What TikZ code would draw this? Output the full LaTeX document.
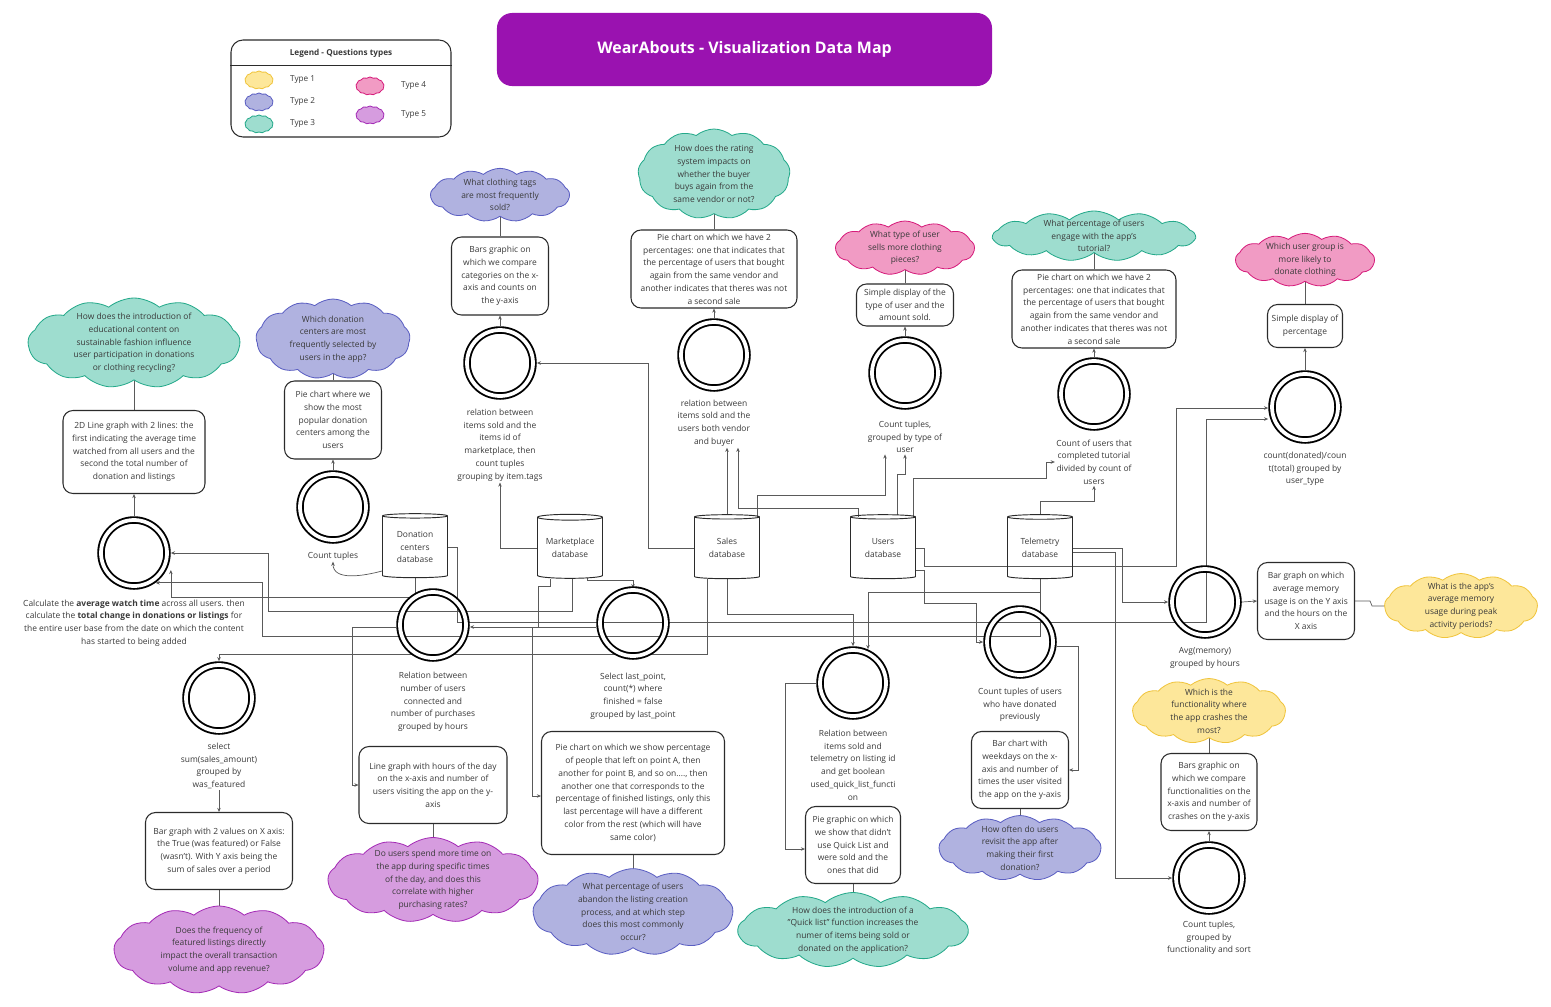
\documentclass[tikz,border=0pt]{standalone}
\usepackage{fontspec}
\setmainfont{Open Sans}
\usetikzlibrary{shapes.geometric,shapes.symbols,arrows.meta,calc,positioning,backgrounds}

\definecolor{titlepurple}{HTML}{9A12B0}
\definecolor{txt}{HTML}{3A3A3A}
\definecolor{boxline}{HTML}{2B2B2B}
\definecolor{wire}{HTML}{5A5A5A}
\definecolor{ylfill}{HTML}{FDE79A}
\definecolor{yldraw}{HTML}{F0C43C}
\definecolor{lvfill}{HTML}{B0B2E0}
\definecolor{lvdraw}{HTML}{5A5EC2}
\definecolor{tlfill}{HTML}{9EDDCF}
\definecolor{tldraw}{HTML}{24A98A}
\definecolor{pkfill}{HTML}{F19BC4}
\definecolor{pkdraw}{HTML}{D61C7B}
\definecolor{ppfill}{HTML}{D69CDF}
\definecolor{ppdraw}{HTML}{A42BB6}

\tikzset{
  titlebox/.style={fill=titlepurple, rounded corners=0.45cm, text=white,
    font=\bfseries\fontsize{13.6}{16}\selectfont},
  qbox/.style={draw=boxline, line width=0.9pt, rounded corners=0.3cm, align=center, inner sep=1pt},
  query/.style={circle, draw=black, line width=1.6pt, double=white, double distance=3.2pt,
    minimum size=1.98cm, inner sep=0pt, outer sep=3.3pt},
  qlabel/.style={align=center, inner sep=1pt},
  dbase/.style={cylinder, shape border rotate=90, aspect=0.12, draw=boxline, line width=0.8pt,
    minimum width=1.95cm, minimum height=1.92cm, align=center, inner sep=0pt},
  question/.style={cloud, cloud puffs=13, cloud puff arc=80, cloud ignores aspect,
    line width=0.7pt, inner sep=0pt},
  qtext/.style={align=center, inner sep=0pt},
  type1/.style={question, fill=ylfill, draw=yldraw},
  type2/.style={question, fill=lvfill, draw=lvdraw},
  type3/.style={question, fill=tlfill, draw=tldraw},
  type4/.style={question, fill=pkfill, draw=pkdraw},
  type5/.style={question, fill=ppfill, draw=ppdraw},
  legtext/.style={font=\fontsize{7}{8}\selectfont, label distance=0.38cm},
  link/.style={draw=wire, line width=0.6pt},
  flow/.style={link, ->}
}

\begin{document}
\begin{tikzpicture}[x=0.03cm, y=-0.03cm, >={Stealth[length=3.5pt,width=3pt]},
  every node/.style={font=\fontsize{7.2}{10.9}\selectfont, text=txt}]
\useasboundingbox (0,0) rectangle (1551,1006);

\node[titlebox, minimum width=14.85cm, minimum height=2.19cm] (title) at (744.5,49.5) {WearAbouts - Visualization Data Map};

\node[draw=boxline, line width=0.9pt, rounded corners=0.36cm, minimum width=6.6cm, minimum height=2.91cm] (legend) at (341,88.5) {};
\node[font=\bfseries\fontsize{7}{8}\selectfont] (legendtitle) at (341,53) {Legend - Questions types};
\draw[boxline, line width=0.9pt] ($(legend.north west)+(0,26)$) -- ($(legend.north east)+(0,26)$);
\node[type1, minimum width=0.84cm, minimum height=0.54cm, label={[legtext]right:Type 1}] (leg1) at (259,80) {};
\node[type2, minimum width=0.84cm, minimum height=0.54cm, label={[legtext]right:Type 2}] (leg2) at (259,102) {};
\node[type3, minimum width=0.84cm, minimum height=0.54cm, label={[legtext]right:Type 3}] (leg3) at (259,124) {};
\node[type4, minimum width=0.84cm, minimum height=0.54cm, label={[legtext]right:Type 4}] (leg4) at (370,86) {};
\node[type5, minimum width=0.84cm, minimum height=0.54cm, label={[legtext]right:Type 5}] (leg5) at (370,115) {};

\node[dbase] (don) at (415,547) {Donation\\centers\\database};
\node[dbase] (mkt) at (570,548) {Marketplace\\database};
\node[dbase] (sal) at (727,548) {Sales\\database};
\node[dbase] (usr) at (883,548) {Users\\database};
\node[dbase] (tel) at (1040,548) {Telemetry\\database};

\node[query] (cA) at (134,553) {};
\node[query] (cB) at (333,507) {};
\node[query] (cC) at (500,363) {};
\node[query] (cD) at (714,355) {};
\node[query] (cE) at (905,373) {};
\node[query] (cF) at (1094,394) {};
\node[query] (cG) at (1305,407) {};
\node[query] (cH) at (433,625) {};
\node[query] (cI) at (633,623) {};
\node[query] (cJ) at (219,698) {};
\node[query] (cK) at (853,683) {};
\node[query] (cL) at (1020,642) {};
\node[query] (cM) at (1205,602) {};
\node[query] (cN) at (1209,878) {};

\node[qlabel] (lA) at (134,623) {Calculate the \textbf{average watch time} across all users. then\\calculate the \textbf{total change in donations or listings} for\\the entire user base from the date on which the content\\has started to being added};
\node[qlabel] (lB) at (333,556) {Count tuples};
\node[qlabel] (lC) at (500,445) {relation between\\items sold and the\\items id of\\marketplace, then\\count tuples\\grouping by item.tags};
\node[qlabel] (lD) at (714,423) {relation between\\items sold and the\\users both vendor\\and buyer};
\node[qlabel] (lE) at (905,437) {Count tuples,\\grouped by type of\\user};
\node[qlabel] (lF) at (1094,462) {Count of users that\\completed tutorial\\divided by count of\\users};
\node[qlabel] (lG) at (1305,469) {count(donated)/coun\\t(total) grouped by\\user\_type};
\node[qlabel] (lH) at (433,702) {Relation between\\number of users\\connected and\\number of purchases\\grouped by hours};
\node[qlabel] (lI) at (633,696) {Select last\_point,\\count(*) where\\finished = false\\grouped by last\_point};
\node[qlabel] (lJ) at (219,766) {select\\sum(sales\_amount)\\grouped by\\was\_featured};
\node[qlabel] (lK) at (853,765) {Relation between\\items sold and\\telemetry on listing id\\and get boolean\\used\_quick\_list\_functi\\on};
\node[qlabel] (lL) at (1020,705) {Count tuples of users\\who have donated\\previously};
\node[qlabel] (lM) at (1205,658) {Avg(memory)\\grouped by hours};
\node[qlabel] (lN) at (1209,938) {Count tuples,\\grouped by\\functionality and sort};

\node[qbox, minimum width=4.26cm, minimum height=2.49cm] (bA) at (134,452) {2D Line graph with 2 lines: the\\first indicating the average time\\watched from all users and the\\second the total number of\\donation and listings};
\node[qbox, minimum width=2.91cm, minimum height=2.34cm] (bB) at (333,420) {Pie chart where we\\show the most\\popular donation\\centers among the\\users};
\node[qbox, minimum width=2.91cm, minimum height=2.34cm] (bC) at (500,276) {Bars graphic on\\which we compare\\categories on the x-\\axis and counts on\\the y-axis};
\node[qbox, minimum width=4.98cm, minimum height=2.34cm] (bD) at (714,269) {Pie chart on which we have 2\\percentages: one that indicates that\\the percentage of users that bought\\again from the same vendor and\\another indicates that theres was not\\a second sale};
\node[qbox, minimum width=2.91cm, minimum height=1.26cm] (bE) at (905,305) {Simple display of the\\type of user and the\\amount sold.};
\node[qbox, minimum width=4.92cm, minimum height=2.34cm] (bF) at (1094,309) {Pie chart on which we have 2\\percentages: one that indicates that\\the percentage of users that bought\\again from the same vendor and\\another indicates that theres was not\\a second sale};
\node[qbox, minimum width=2.25cm, minimum height=1.29cm] (bG) at (1305,326) {Simple display of\\percentage};
\node[qbox, minimum width=4.44cm, minimum height=2.31cm] (bH) at (433,785) {Line graph with hours of the day\\on the x-axis and number of\\users visiting the app on the y-\\axis};
\node[qbox, minimum width=5.49cm, minimum height=3.69cm] (bI) at (633,793) {Pie chart on which we show percentage\\of people that left on point A, then\\another  for point B, and so on...., then\\another one that corresponds to the\\percentage of finished listings, only this\\last percentage will have a different\\color from the rest (which will have\\same color)};
\node[qbox, minimum width=4.41cm, minimum height=2.31cm] (bJ) at (219,851) {Bar graph with 2 values on X axis:\\the True (was featured) or False\\(wasn't). With Y axis being the\\sum of sales over a period};
\node[qbox, minimum width=2.85cm, minimum height=2.31cm] (bK) at (853,845) {Pie graphic on which\\we show that didn't\\use Quick List and\\were sold and the\\ones that did};
\node[qbox, minimum width=2.91cm, minimum height=2.31cm] (bL) at (1020,770) {Bar chart with\\weekdays on the x-\\axis and number of\\times the user visited\\the app on the y-axis};
\node[qbox, minimum width=2.91cm, minimum height=2.31cm] (bM) at (1306,601) {Bar graph on which\\average memory\\usage is on the Y axis\\and the hours on the\\X axis};
\node[qbox, minimum width=2.88cm, minimum height=2.31cm] (bN) at (1209,792) {Bars graphic on\\which we compare\\functionalities on the\\x-axis and number of\\crashes on the y-axis};

\node[type3, minimum width=6.36cm, minimum height=2.7cm, label={[qtext]center:{How does the introduction of\\educational content on\\sustainable fashion influence\\user participation in donations\\or clothing recycling?}}] (qA) at (134,343) {};
\node[type2, minimum width=4.62cm, minimum height=2.4cm, label={[qtext]center:{Which donation\\centers are most\\frequently selected by\\users in the app?}}] (qB) at (333,339) {};
\node[type2, minimum width=4.17cm, minimum height=1.6cm, label={[qtext]center:{What clothing tags\\are most frequently\\sold?}}] (qC) at (500,195) {};
\node[type3, minimum width=4.56cm, minimum height=2.7cm, label={[qtext]center:{How does the rating\\system impacts on\\whether the buyer\\buys again from the\\same vendor or not?}}] (qD) at (714,174) {};
\node[type4, minimum width=4.17cm, minimum height=1.62cm, label={[qtext]center:{What type of user\\sells more clothing\\pieces?}}] (qE) at (905,248) {};
\node[type3, minimum width=6.06cm, minimum height=1.5cm, label={[qtext]center:{What percentage of users\\engage with the app's\\tutorial?}}] (qF) at (1094,236) {};
\node[type4, minimum width=4.17cm, minimum height=1.6cm, label={[qtext]center:{Which user group is\\more likely to\\donate clothing}}] (qG) at (1305,260) {};
\node[type5, minimum width=6.3cm, minimum height=2.55cm, label={[qtext]center:{Do users spend more time on\\the app during specific times\\of the day, and does this\\correlate with higher\\purchasing rates?}}] (qH) at (433,880) {};
\node[type2, minimum width=6.0cm, minimum height=2.6cm, label={[qtext]center:{What percentage of users\\abandon the listing creation\\process, and at which step\\does this most commonly\\occur?}}] (qI) at (633,912) {};
\node[type5, minimum width=6.3cm, minimum height=2.64cm, label={[qtext]center:{Does the frequency of\\featured listings directly\\impact the overall transaction\\volume and app revenue?}}] (qJ) at (219,950) {};
\node[type3, minimum width=6.9cm, minimum height=2.25cm, label={[qtext]center:{How does the introduction of a\\"Quick list" function increases the\\numer of items being sold or\\donated on the application?}}] (qK) at (853,930) {};
\node[type2, minimum width=4.86cm, minimum height=1.95cm, label={[qtext]center:{How often do users\\revisit the app after\\making their first\\donation?}}] (qL) at (1020,848) {};
\node[type1, minimum width=4.59cm, minimum height=1.95cm, label={[qtext]center:{What is the app's\\average memory\\usage during peak\\activity periods?}}] (qM) at (1461,606) {};
\node[type1, minimum width=4.59cm, minimum height=1.95cm, label={[qtext]center:{Which is the\\functionality where\\the app crashes the\\most?}}] (qN) at (1209,711) {};

\begin{scope}[on background layer]
\fill[white] (0,0) rectangle (1551,1006);
\foreach \c/\b in {cA/bA, cB/bB, cC/bC, cD/bD, cE/bE, cF/bF, cG/bG, cN/bN}
  \draw[flow] (\c.north) -- (\b.south);
\foreach \b/\q in {bA/qA, bB/qB, bC/qC, bD/qD, bE/qE, bF/qF, bG/qG, bN/qN}
  \draw[link] (\b.north) -- (\b.north |- \q.center);
\foreach \b/\q in {bH/qH, bI/qI, bJ/qJ, bK/qK, bL/qL}
  \draw[link] (\b.south) -- (\b.south |- \q.center);
\draw[flow] (lJ.south) -- (bJ.north);
\draw[flow] (cM.east) -- (bM.west);
\draw[link] (bM.east) -- ++(15,0) -- ++(2,5) -- (qM.center);

\draw[flow] (mkt.west) -| (lC.south);
\draw[flow] (sal.west) -- ++(-46,0) |- (cC.east);
\draw[flow] (sal.north) -- (sal.north |- lD.south);
\draw[flow] ($(usr.north)+(-25,3)$) -- ++(0,-9) -| ($(lD.south)+(24,0)$);
\draw[flow] ($(sal.north)+(30,3)$) -- ++(0,-22) -| ($(lE.south)+(-20,0)$);
\draw[flow] ($(usr.north)+(14,1)$) -- ++(0,-41) -| (lE.south);
\draw[flow] ($(usr.north)+(30,3)$) -- ++(0,-39) -| ($(lF.west)+(-9,0)$) -- (lF.west);
\draw[flow] (tel.north) -- ++(0,-13) -| (lF.south);
\draw[flow] (usr.east) -- ++(8,0) -- ++(0,18) -| ($(cG.west)+(-92,1)$) -- ($(cG.west)+(0,1)$);
\draw[flow] (don.east) -- ++(9,0) -- ++(0,75) -| ($(cG.west)+(-62,12)$) -- ($(cG.west)+(0,12)$);
\draw[flow] (tel.east) -- ++(49,0) |- (cM.west);
\draw[flow] ($(tel.east)+(0,4)$) -- ++(42,0) |- (cN.west);
\draw[flow] ($(usr.east)+(0,22)$) -- ++(8,0) -- ++(0,33) -| ($(cL.west)+(-7,0)$) -- (cL.west);
\draw[flow] ($(cL.east)+(0,4)$) -- ++(21,0) |- (bL.east);
\draw[flow] (tel.south) -- ++(0,13) -| ($(cK.north)+(15,3)$);
\draw[flow] (sal.south) -- ++(0,35) -| (cK.north);
\draw[flow] (cK.west) -- ++(-31,0) |- ($(bK.west)+(0,4)$);
\draw[flow] (tel.south) -- ++(0,57) -| ($(cA.-54)+(107,0)$) -- (cA.-54);
\draw[flow] ($(mkt.south)+(2,0)$) -- ++(0,33) -| ($(cA.east)+(97,0)$) -- (cA.east);
\draw[flow] (don.south) -- ++(0,19) -| ($(cA.east)+(0,17)$);
\draw[flow] ($(sal.south)+(-20,0)$) -- ++(0,75) -| (cJ.north);
\draw[flow] ($(mkt.south)+(17,-1)$) -- ++(0,3) -| ($(cI.north)+(0,2)$);
\draw[flow] ($(mkt.south)+(-20,0)$) -- ++(0,8) -- ++(-12,0) |- ($(cH.east)+(0,2)$);
\draw[flow] ($(cI.west)+(0,4)$) -- ++(-64,0) |- ($(bI.west)+(0,3)$);
\draw[flow] ($(cH.west)+(0,2)$) -- ++(-44,0) |- (bH.west);
\draw[flow] ($(don.west)+(0,24)$) to[out=195,in=-90] (lB.south);
\end{scope}
\end{tikzpicture}
\end{document}
